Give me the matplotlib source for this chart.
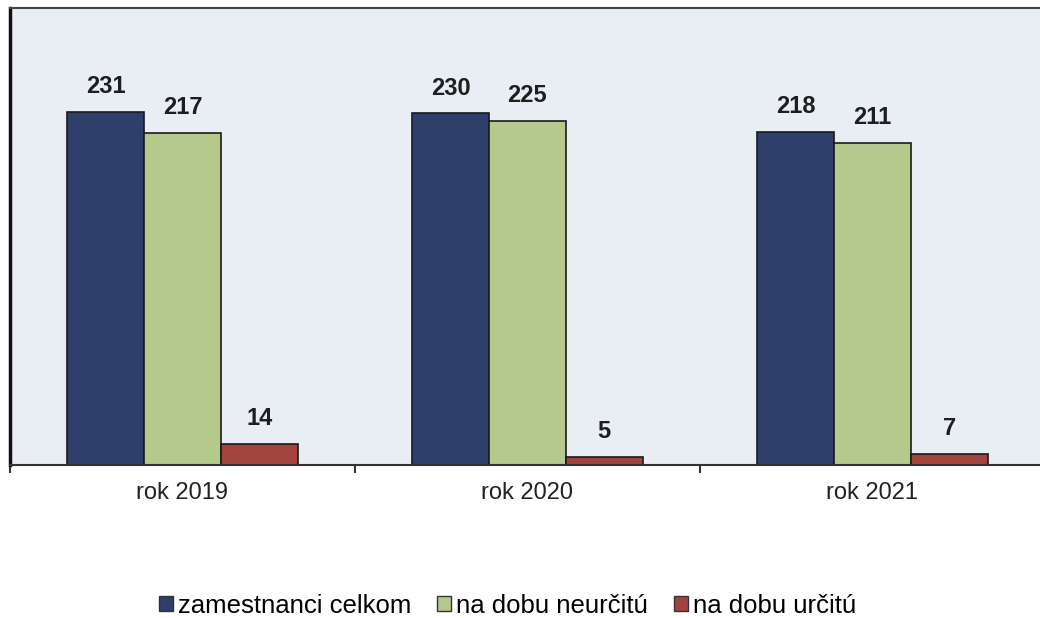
import matplotlib.pyplot as plt
import numpy as np
from matplotlib.patches import Patch

plt.rcParams['font.family'] = ['Liberation Sans', 'DejaVu Sans']

roky = ["rok 2019", "rok 2020", "rok 2021"]
celkom = [231, 230, 218]
neurcitu = [217, 225, 211]
urcitu = [14, 5, 7]

serie = [
    ("zamestnanci celkom", celkom, "#2f3f6c"),
    ("na dobu neurčitú", neurcitu, "#b4c98b"),
    ("na dobu určitú", urcitu, "#a2433d"),
]

fig = plt.figure(figsize=(10.4, 6.18), dpi=100)
ax = fig.add_axes([0.0096, 0.2476, 0.995, 0.7394])
ax.set_facecolor("#e9eef4")

x = np.arange(len(roky))
sirka = 0.223
for i, (nazov, hodnoty, farba) in enumerate(serie):
    pozicie = x + (i - 1) * sirka
    ax.bar(pozicie, hodnoty, width=sirka, color=farba, edgecolor="#1a1a1a",
           linewidth=1.2, label=nazov)
    for px, h in zip(pozicie, hodnoty):
        ax.annotate(str(h), (px, h), xytext=(0, 10), textcoords="offset points",
                    ha="center", va="bottom", fontsize=17, fontweight="bold",
                    color="#1e1e1e")

ax.set_xlim(-0.5, 2.5)
ax.set_ylim(0, 299)
ax.set_yticks([])
ax.set_xticks([-0.5, 0.5, 1.5, 2.5])
ax.set_xticklabels([])
ax.set_xticks(x, minor=True)
ax.set_xticklabels(roky, minor=True, fontsize=17, color="#222222")
ax.tick_params(axis="x", which="minor", length=0, pad=12)
ax.tick_params(axis="x", which="major", length=6, width=1.5, color="#333333")
ax.spines["left"].set_linewidth(2.5)
ax.spines["left"].set_color("#111111")
ax.spines["bottom"].set_linewidth(1.5)
ax.spines["bottom"].set_color("#333333")
ax.spines["top"].set_color("#444444")
ax.spines["top"].set_linewidth(1.5)
ax.spines["right"].set_visible(False)

znacky = [Patch(facecolor=f, edgecolor="#333333", label=n) for n, _, f in serie]
fig.legend(handles=znacky, loc="center", bbox_to_anchor=(0.488, 0.02),
           ncol=3, frameon=False, fontsize=18.5, handlelength=0.55,
           handleheight=0.55, handletextpad=0.2, columnspacing=1.0)

fig.savefig("out.png", dpi=100, facecolor="white")
